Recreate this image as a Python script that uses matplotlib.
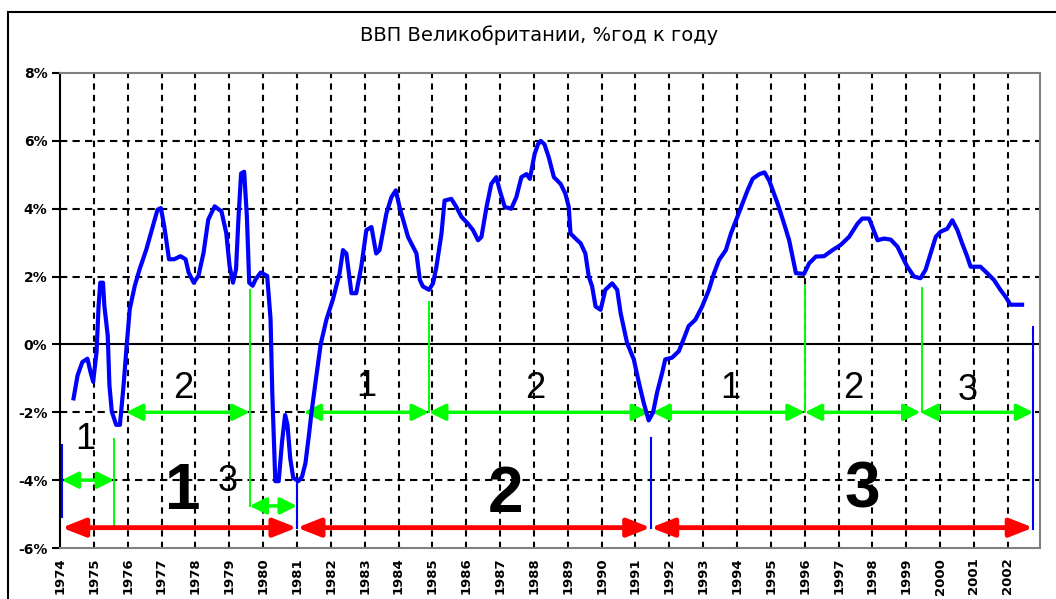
#UK GDP growth, % year on year, with cycle markup

#import necessary libraries
import numpy as np
import matplotlib.pyplot as plt
from matplotlib.patches import Rectangle

# --- data ---
gdp_time = [1974.40, 1974.52, 1974.66, 1974.81, 1974.90, 1974.98, 1975.08, 1975.14, 1975.19, 1975.27,
            1975.31, 1975.41, 1975.46, 1975.53, 1975.66, 1975.77, 1975.87, 1975.97, 1976.06, 1976.21,
            1976.35, 1976.55, 1976.74, 1976.88, 1976.98, 1977.08, 1977.22, 1977.37, 1977.56, 1977.71,
            1977.80, 1977.95, 1978.09, 1978.24, 1978.38, 1978.57, 1978.77, 1978.91, 1979.01, 1979.11,
            1979.20, 1979.27, 1979.35, 1979.44, 1979.52, 1979.59, 1979.69, 1979.78, 1979.93, 1980.12,
            1980.22, 1980.27, 1980.36, 1980.46, 1980.56, 1980.65, 1980.72, 1980.80, 1980.89, 1981.04,
            1981.15, 1981.25, 1981.35, 1981.43, 1981.55, 1981.70, 1981.87, 1982.06, 1982.26, 1982.36,
            1982.46, 1982.61, 1982.75, 1982.90, 1983.05, 1983.20, 1983.34, 1983.44, 1983.64, 1983.79,
            1983.92, 1984.03, 1984.28, 1984.53, 1984.63, 1984.72, 1984.90, 1985.02, 1985.12, 1985.27,
            1985.36, 1985.56, 1985.71, 1985.86, 1986.05, 1986.20, 1986.35, 1986.45, 1986.60, 1986.74,
            1986.89, 1986.99, 1987.14, 1987.33, 1987.48, 1987.63, 1987.78, 1987.88, 1988.02, 1988.12,
            1988.20, 1988.31, 1988.44, 1988.59, 1988.79, 1988.93, 1989.03, 1989.08, 1989.23, 1989.38,
            1989.52, 1989.62, 1989.72, 1989.82, 1989.97, 1990.11, 1990.31, 1990.46, 1990.56, 1990.75,
            1990.95, 1991.10, 1991.24, 1991.39, 1991.52, 1991.64, 1991.79, 1991.88, 1992.08, 1992.28,
            1992.42, 1992.57, 1992.77, 1992.97, 1993.17, 1993.32, 1993.47, 1993.67, 1993.82, 1993.97,
            1994.12, 1994.31, 1994.46, 1994.66, 1994.81, 1994.95, 1995.20, 1995.39, 1995.54, 1995.64,
            1995.74, 1995.98, 1996.13, 1996.33, 1996.57, 1996.82, 1997.06, 1997.31, 1997.56, 1997.70,
            1997.90, 1998.00, 1998.15, 1998.34, 1998.54, 1998.74, 1998.88, 1999.03, 1999.23, 1999.42,
            1999.57, 1999.72, 1999.87, 2000.01, 2000.21, 2000.36, 2000.51, 2000.65, 2000.80, 2000.90,
            2001.05, 2001.19, 2001.39, 2001.59, 2001.78, 2001.93, 2002.08, 2002.28, 2002.42]
gdp_growth = [-1.59, -0.91, -0.52, -0.42, -0.81, -1.10, -0.22, 1.14, 1.82, 1.82,
              1.14, 0.26, -1.20, -1.98, -2.37, -2.37, -1.30, -0.03, 1.04, 1.73,
              2.21, 2.80, 3.48, 3.97, 4.02, 3.48, 2.51, 2.51, 2.60, 2.51,
              2.12, 1.82, 2.02, 2.70, 3.68, 4.07, 3.92, 3.29, 2.31, 1.82,
              2.21, 3.68, 5.04, 5.09, 3.78, 1.82, 1.73, 1.92, 2.12, 2.02,
              0.75, -1.40, -4.03, -4.03, -2.86, -2.08, -2.37, -3.35, -3.93, -4.03,
              -3.90, -3.50, -2.70, -2.00, -1.10, 0.00, 0.73, 1.32, 2.10, 2.78,
              2.68, 1.51, 1.51, 2.29, 3.37, 3.46, 2.68, 2.78, 3.85, 4.34,
              4.54, 4.05, 3.17, 2.68, 1.90, 1.71, 1.61, 1.80, 2.29, 3.27,
              4.24, 4.29, 4.05, 3.76, 3.56, 3.37, 3.07, 3.17, 4.05, 4.73,
              4.93, 4.54, 4.05, 4.00, 4.34, 4.93, 5.02, 4.88, 5.61, 5.90,
              6.00, 5.90, 5.51, 4.93, 4.73, 4.44, 4.05, 3.27, 3.12, 2.98,
              2.68, 2.00, 1.71, 1.12, 1.02, 1.61, 1.80, 1.61, 0.93, 0.05,
              -0.44, -1.12, -1.71, -2.24, -2.00, -1.41, -0.83, -0.44, -0.39, -0.20,
              0.15, 0.54, 0.73, 1.12, 1.61, 2.10, 2.49, 2.78, 3.27, 3.66,
              4.05, 4.54, 4.88, 5.02, 5.07, 4.83, 4.15, 3.56, 3.07, 2.59,
              2.10, 2.08, 2.39, 2.59, 2.60, 2.78, 2.93, 3.17, 3.56, 3.71,
              3.71, 3.46, 3.07, 3.12, 3.09, 2.88, 2.59, 2.29, 2.00, 1.95,
              2.20, 2.68, 3.17, 3.32, 3.41, 3.66, 3.37, 2.98, 2.59, 2.29,
              2.29, 2.29, 2.10, 1.90, 1.61, 1.41, 1.17, 1.17, 1.17]

years = list(range(1974, 2003))
y_ticks = [-6, -4, -2, 0, 2, 4, 6, 8]

# big cycles (red arrows) and their labels
big_cycles = [(1974.05, 1981.0), (1981.0, 1991.45), (1991.45, 2002.75)]
big_labels = ['1', '2', '3']
big_label_pos = [(1977.63, -4.35), (1987.15, -4.45), (1997.7, -4.3)]

# phases inside the cycles (green arrows): start, end, level
phases = [(1974.05, 1975.6, -4.0), (1975.95, 1979.6, -2.0), (1979.6, 1981.0, -4.76),
          (1981.2, 1984.9, -2.0), (1984.9, 1991.4, -2.0),
          (1991.5, 1996.0, -2.0), (1996.0, 1999.42, -2.0), (1999.42, 2002.75, -2.0)]
phase_labels = ['1', '2', '3', '1', '2', '1', '2', '3']
phase_label_pos = [(1974.75, -2.8), (1977.63, -1.3), (1978.96, -4.05),
                   (1983.06, -1.25), (1988.03, -1.3),
                   (1993.8, -1.3), (1997.43, -1.3), (2000.82, -1.35)]

# thin green marker lines: x, top, bottom
green_marks = [(1975.6, -2.8, -5.4), (1979.6, 1.6, -4.76), (1984.9, 1.25, -2.0),
               (1996.0, 1.72, -2.0), (1999.45, 1.65, -2.0)]
# thin blue marker lines: x, top, bottom
blue_marks = [(1974.05, -2.95, -5.1), (1981.0, -4.05, -5.4),
              (1991.45, -2.75, -5.4), (2002.75, 0.5, -5.45)]

# --- plotting ---
fig = plt.figure(figsize=(10.56, 5.99), dpi=100)
ax = fig.add_axes([60/1056, 1 - 548/599, 980/1056, 475/599])
ax.set_xlim(1974, 2002.95)
ax.set_ylim(-6, 8)

# dashed grid
for yr in years[1:]:
    ax.axvline(yr, color='black', lw=1.5, ls=(0, (3, 2.5)), zorder=1)
for yv in [-4, -2, 2, 4, 6]:
    ax.axhline(yv, color='black', lw=1.5, ls=(0, (3.5, 2.5)), zorder=1)
ax.axhline(0, color='black', lw=1.5, zorder=2)

# markup lines
for x, top, bot in green_marks:
    ax.plot([x, x], [top, bot], color='#00ff00', lw=1.4, zorder=3)
for x, top, bot in blue_marks:
    ax.plot([x, x], [top, bot], color='#0000ff', lw=1.5, zorder=3)

def h_arrow(x0, x1, y, color, lw, hl, hw):
    ax.annotate('', xy=(x1, y), xytext=(x0, y),
                arrowprops=dict(arrowstyle=f'<|-|>,head_length={hl},head_width={hw}',
                                color=color, lw=lw, shrinkA=0, shrinkB=0), zorder=4)

for x0, x1 in big_cycles:
    h_arrow(x0, x1, -5.4, '#ff0000', 3.5, 1.4, 0.55)
for x0, x1, lev in phases:
    h_arrow(x0, x1, lev, '#00ff00', 2.5, 1.0, 0.5)

# the GDP curve
ax.plot(gdp_time, gdp_growth, color='#0000ff', lw=3, zorder=5)

# labels on the markup
for txt, (x, y) in zip(big_labels, big_label_pos):
    ax.text(x, y, txt, fontsize=46, fontweight='bold', family='Liberation Sans',
            ha='center', va='center', zorder=6)
for txt, (x, y) in zip(phase_labels, phase_label_pos):
    ax.text(x, y, txt, fontsize=26, family='Liberation Sans',
            ha='center', va='center', zorder=6)

# axes formatting
ax.set_xticks(years)
ax.set_xticklabels([str(y) for y in years], rotation=90, fontsize=9.5, fontweight='bold')
ax.tick_params(axis='x', length=0, pad=7)
ax.set_yticks(y_ticks)
ax.set_yticklabels([f'{v}%' for v in y_ticks], fontsize=10, fontweight='bold')
ax.tick_params(axis='y', length=6, width=1.5, pad=3, direction='out')
for s in ['top', 'right', 'bottom']:
    ax.spines[s].set_color('#808080')
    ax.spines[s].set_linewidth(1.5)
ax.spines['left'].set_color('black')
ax.spines['left'].set_linewidth(1.5)

fig.text(539/1056, 1 - 35/599, 'ВВП Великобритании, %год к году',
         fontsize=14, ha='center', va='center')

# outer chart border
fig.patches.append(Rectangle((8/1056, -0.02), 1.0, 1 - 12/599 + 0.02,
                             transform=fig.transFigure, fill=False, ec='black', lw=1.5))

fig.savefig('out.png', dpi=100)
